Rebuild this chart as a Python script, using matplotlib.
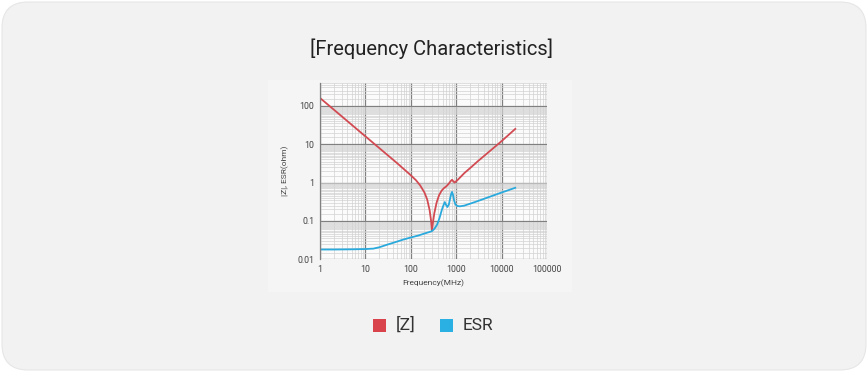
import matplotlib
matplotlib.use("Agg")
import matplotlib.pyplot as plt
from matplotlib.patches import FancyBboxPatch, Rectangle
from matplotlib.ticker import LogLocator, FixedLocator, FixedFormatter, NullFormatter
import numpy as np

plt.rcParams['font.family'] = ['Roboto', 'DejaVu Sans']

# Data
z_freq = [1, 2, 5, 10, 20, 50, 100, 130, 160, 200, 230, 260, 280, 292, 305, 330, 370, 420, 480, 540, 600, 680, 760, 810,
          860, 920, 1000, 1100, 1500, 2000, 3000, 5000, 10000, 20000]
z_vals = [160, 80, 32, 16, 8.0, 3.2, 1.55, 1.15, 0.85, 0.55, 0.36, 0.19, 0.1, 0.057, 0.085, 0.16, 0.3, 0.47, 0.62, 0.72, 0.79, 0.92, 1.1, 1.18,
          1.08, 1.0, 1.08, 1.2, 1.75, 2.35, 3.6, 6.0, 12.0, 25.0]
esr_freq = [1, 2, 5, 10, 15, 20, 30, 50, 70, 100, 150, 200, 250, 290, 330, 380, 430, 480, 520, 560, 600, 640, 690, 740,
            780, 810, 850, 900, 960, 1050, 1200, 1500, 2000, 3000, 5000, 10000, 20000]
esr_vals = [0.018, 0.018, 0.0182, 0.0185, 0.019, 0.0205, 0.024, 0.029, 0.033, 0.037, 0.042, 0.047, 0.051, 0.054, 0.062, 0.08, 0.12, 0.19, 0.25, 0.31, 0.26, 0.23, 0.27, 0.40,
            0.52, 0.57, 0.48, 0.34, 0.27, 0.245, 0.24, 0.25, 0.28, 0.33, 0.41, 0.55, 0.73]
x_ticks = [1, 10, 100, 1000, 10000, 100000]
x_labels = ["1", "10", "100", "1000", "10000", "100000"]
y_ticks = [0.01, 0.1, 1, 10, 100]
y_labels = ["0.01", "0.1", "1", "10", "100"]
series_names = ["[Z]", "ESR"]
colors = ["#d9434c", "#2ab0e3"]

W, H = 868, 372
fig = plt.figure(figsize=(W / 100, H / 100), dpi=100)
fig.patch.set_facecolor("white")

# card background
card = FancyBboxPatch((2 / W, 2 / H), (W - 4) / W, (H - 4) / H,
                      boxstyle="round,pad=0,rounding_size=0.03",
                      transform=fig.transFigure, facecolor="#f2f2f2", edgecolor="#e6e6e6",
                      linewidth=0.8, mutation_aspect=W / H, zorder=-10)
fig.patches.append(card)
# chart image area
fig.patches.append(Rectangle((268 / W, 1 - 292 / H), (572 - 268) / W, (292 - 80) / H,
                             transform=fig.transFigure, facecolor="#f5f5f5", edgecolor="none",
                             zorder=-9))

ax = fig.add_axes([320 / W, 1 - 259.3 / H, (547 - 320) / W, (259.3 - 82.7) / H])
ax.set_facecolor("#fbfbfb")
ax.set_xscale("log")
ax.set_yscale("log")
ax.set_xlim(1, 100000)
ax.set_ylim(0.01, 400)

ax.xaxis.set_major_locator(FixedLocator(x_ticks))
ax.xaxis.set_major_formatter(FixedFormatter(x_labels))
ax.yaxis.set_major_locator(FixedLocator(y_ticks))
ax.yaxis.set_major_formatter(FixedFormatter(y_labels))
ax.xaxis.set_minor_locator(LogLocator(base=10, subs=np.arange(2, 10), numticks=20))
ax.yaxis.set_minor_locator(LogLocator(base=10, subs=np.arange(1.5, 10, 0.5), numticks=20))
ax.xaxis.set_minor_formatter(NullFormatter())
ax.yaxis.set_minor_formatter(NullFormatter())

ax.grid(which="major", color="#808080", linewidth=0.9)
ax.grid(which="minor", color="#d2d2d2", linewidth=0.5)
ax.set_axisbelow(True)
ax.tick_params(which="both", length=0, labelsize=6.3, labelcolor="#444444", pad=4)
for s in ["top", "right", "bottom"]:
    ax.spines[s].set_visible(False)
ax.spines["left"].set_color("#808080")
ax.spines["left"].set_linewidth(0.9)

ax.plot(z_freq, z_vals, color="#d24a52", linewidth=1.3)
ax.plot(esr_freq, esr_vals, color="#2aa9dc", linewidth=1.3)

ax.set_xlabel("Frequency(MHz)", fontsize=6, color="#444444", labelpad=4)
ax.set_ylabel("|Z|, ESR(ohm)", fontsize=6, color="#444444", labelpad=6)

fig.text(431 / W, 1 - 49 / H, "[Frequency Characteristics]", ha="center", va="center",
         fontsize=14.5, color="#222222")

# legend
ly = 1 - 325 / H
for i, (name, c) in enumerate(zip(series_names, colors)):
    x0 = [373, 440][i]
    fig.patches.append(Rectangle((x0 / W, ly - 6.5 / H), 13 / W, 13 / H,
                                 transform=fig.transFigure, facecolor=c, edgecolor="none"))
    fig.text((x0 + 23) / W, ly, name, ha="left", va="center", fontsize=12.5, color="#333333")

fig.savefig("out.png", dpi=100, facecolor=fig.get_facecolor())
